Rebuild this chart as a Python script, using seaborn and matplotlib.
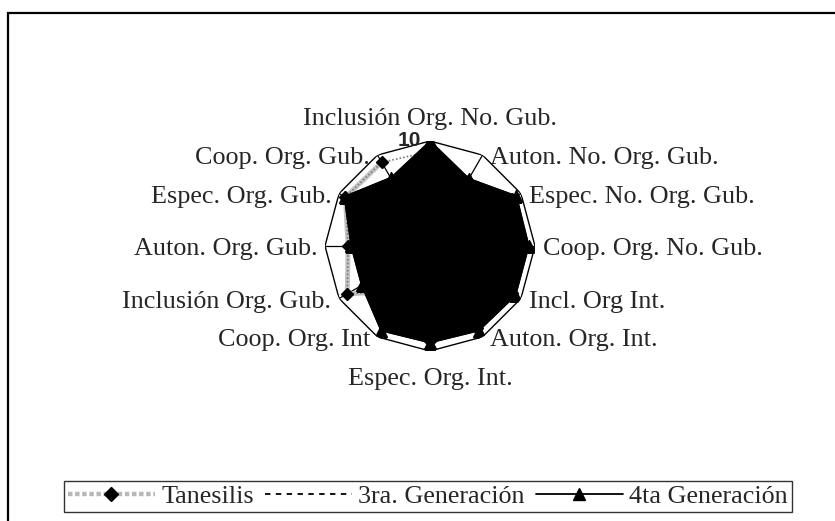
import numpy as np
import matplotlib
matplotlib.use("Agg")
import matplotlib.pyplot as plt
import seaborn as sns
from matplotlib.lines import Line2D
from matplotlib.patches import Rectangle

# ---------------- data ----------------
categories = [
    "Inclusión Org. No. Gub.",
    "Auton. No. Org. Gub.",
    "Espec. No. Org. Gub.",
    "Coop. Org. No. Gub.",
    "Incl. Org Int.",
    "Auton. Org. Int.",
    "Espec. Org. Int.",
    "Coop. Org. Int",
    "Inclusión Org. Gub.",
    "Auton. Org. Gub.",
    "Espec. Org. Gub.",
    "Coop. Org. Gub.",
]
tanesilis = [9.0, 7.2, 9.0, 9.0, 9.0, 9.0, 9.0, 5.0, 9.1, 7.8, 9.3, 9.2]
tercera = [8.0, 6.5, 8.0, 8.0, 8.0, 8.0, 8.0, 7.5, 6.5, 6.5, 8.0, 6.5]
cuarta = [10.0, 7.4, 9.5, 9.4, 9.4, 9.3, 9.2, 9.3, 7.5, 7.5, 9.4, 7.5]
series_names = ["Tanesilis", "3ra. Generación", "4ta Generación"]
r_max = 10
r_tick_label = "10"

# ---------------- style ----------------
sns.set_theme(style="white")
plt.rcParams['font.family'] = ['Liberation Serif', 'DejaVu Serif']

W, H = 835, 521
fig = plt.figure(figsize=(W / 100, H / 100), dpi=100)
fig.patch.set_facecolor("white")

cx, cy, R = 430, 246, 105
ax = fig.add_axes([(cx - R) / W, 1 - (cy + R) / H, 2 * R / W, 2 * R / H], projection="polar")
ax.set_theta_offset(np.pi / 2)
ax.set_theta_direction(-1)
ax.set_ylim(0, r_max)
ax.axis("off")

n = len(categories)
theta = np.linspace(0, 2 * np.pi, n, endpoint=False)
theta_c = np.append(theta, theta[0])


def close(v):
    return list(v) + [v[0]]


# outer frame polygon and spokes
ax.plot(theta_c, [r_max] * (n + 1), color="black", lw=1.0, zorder=1)
for t in theta:
    ax.plot([t, t], [0, r_max], color="black", lw=0.9, zorder=1)

# Tanesilis: patterned grey line with diamond markers
sns.lineplot(x=theta_c, y=close(tanesilis), sort=False, ax=ax, color="#c4c4c4",
             lw=3.6, zorder=2, legend=False)
ax.plot(theta_c, close(tanesilis), color="#7a7a7a", lw=1.2, ls=(0, (1, 1.2)), zorder=2.1)
ax.plot(theta, tanesilis, ls="none", marker="D", ms=6.5, color="black", zorder=2.2)

# 3ra Generación: dashed black
sns.lineplot(x=theta_c, y=close(tercera), sort=False, ax=ax, color="black",
             lw=1.3, ls="--", zorder=2.3, legend=False)

# 4ta Generación: filled black with triangle markers
ax.fill(theta_c, close(cuarta), color="black", zorder=3)
sns.lineplot(x=theta_c, y=close(cuarta), sort=False, ax=ax, color="black",
             lw=1.3, zorder=4, legend=False)
ax.plot(theta, cuarta, ls="none", marker="^", ms=8.5, color="black", zorder=4.1)

# category labels
fs = 18.8
for t, lab in zip(theta, categories):
    s, c = np.sin(t), np.cos(t)
    if abs(s) < 1e-6:
        if c > 0:
            ax.annotate(lab, xy=(t, r_max), xytext=(0, 11.5), textcoords="offset points",
                        ha="center", va="baseline", fontsize=fs, annotation_clip=False)
        else:
            ax.annotate(lab, xy=(t, r_max), xytext=(0, -12), textcoords="offset points",
                        ha="center", va="top", fontsize=fs, annotation_clip=False)
    elif s > 0:
        ax.annotate(lab, xy=(t, r_max), xytext=(5.5, -2.2), textcoords="offset points",
                    ha="left", va="center", fontsize=fs, annotation_clip=False)
    else:
        ax.annotate(lab, xy=(t, r_max), xytext=(-5.5, -2.2), textcoords="offset points",
                    ha="right", va="center", fontsize=fs, annotation_clip=False)

# radial max label
ax.annotate(r_tick_label, xy=(0, r_max), xytext=(-6.5, -3.5), textcoords="offset points",
            ha="right", va="baseline", fontsize=15, fontweight="bold",
            family=["Liberation Sans", "DejaVu Sans"], annotation_clip=False)

# legend
handles = [
    Line2D([0], [0], color="#b8b8b8", lw=3.2, ls=(0, (1, 0.6)), marker="D", ms=7,
           mfc="black", mec="black"),
    Line2D([0], [0], color="black", lw=1.3, ls=(0, (3, 3))),
    Line2D([0], [0], color="black", lw=1.3, marker="^", ms=8, mfc="black", mec="black"),
]
leg = fig.legend(handles, series_names, loc="center", bbox_to_anchor=(428 / W, 1 - 496.5 / H),
                 ncol=3, frameon=True, fancybox=False, shadow=False, fontsize=fs,
                 handlelength=3.3, handletextpad=0.25, columnspacing=0.45,
                 borderpad=0.15, borderaxespad=0, numpoints=1)
leg.get_frame().set_edgecolor("black")
leg.get_frame().set_linewidth(1.0)

# outer chart frame (extends beyond the right and bottom of the image)
fig.add_artist(Rectangle((8 / W, -0.2), 2.0, 1.2 - 13 / H, transform=fig.transFigure,
                         fill=False, ec="black", lw=1.6))

fig.savefig("out.png", dpi=100, facecolor="white")
